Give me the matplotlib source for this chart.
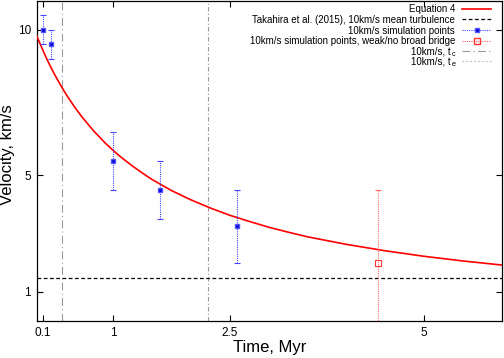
import matplotlib
matplotlib.use("Agg")
import matplotlib.pyplot as plt
from matplotlib.transforms import offset_copy

plt.rcParams['font.family'] = ['Liberation Sans', 'DejaVu Sans']

# Equation 4 curve
eq_t = [0.02, 0.05, 0.1, 0.15, 0.2, 0.25, 0.3, 0.35, 0.4, 0.5, 0.6, 0.75, 0.9, 1.0, 1.1, 1.25,
        1.4, 1.5, 1.75, 2.0, 2.25, 2.5, 2.75, 3.0, 3.25, 3.5, 4.0, 4.5, 5.0, 5.5, 6.0]
eq_v = [9.79, 9.60, 9.29, 8.99, 8.72, 8.46, 8.22, 7.99, 7.77, 7.37, 7.01, 6.53, 6.11, 5.86,
        5.63, 5.32, 5.04, 4.86, 4.48, 4.16, 3.88, 3.63, 3.42, 3.22, 3.05, 2.89, 2.63, 2.41,
        2.22, 2.06, 1.92]

# simulation points
sim_t = [0.1, 0.2, 1.0, 1.6, 2.6]
sim_v = [10.0, 9.5, 5.5, 4.5, 3.25]
sim_err = [0.5, 0.5, 1.0, 1.0, 1.25]

weak_t = [4.4]
weak_v = [2.0]
weak_err = [2.5]

takahira_v = 1.47
t_c = 0.34
t_e = 2.22

xticks = [0.1, 1, 2.5, 5]
xticklabels = ['0.1', '1', '2.5', '5']
yticks = [1, 5, 10]
yticklabels = ['1', '5', '10']

fig = plt.figure(figsize=(5.04, 3.58), dpi=100)
ax = fig.add_axes([36.7/504, 1 - 321/358, (502 - 36.7)/504, (321 - 0.5)/358])

ax.plot(eq_t, eq_v, color='#ff0000', lw=1.2, zorder=3)
ax.axhline(takahira_v, color='black', lw=0.9, ls=(0, (3, 2)), zorder=2)
ax.axvline(t_c, color='#999999', lw=0.8, ls=(0, (7, 3, 1, 3)), zorder=1)
ax.axvline(t_e, color='#999999', lw=0.8, ls=(0, (4, 2, 1, 2)), zorder=1)

eb = ax.errorbar(sim_t, sim_v, yerr=sim_err, fmt='s', color='#0000ff', ms=3.5,
                 mec='#5555ff', mfc='#0000cc', ecolor='#4444ff', elinewidth=0.8,
                 capsize=2, capthick=0.8, zorder=4)
for lc in eb[2]:
    lc.set_linestyle((0, (1, 1)))

eb2 = ax.errorbar(weak_t, weak_v, yerr=weak_err, fmt='s', color='#ff0000', ms=5,
                  mfc='none', mec='#ff3333', mew=0.8, ecolor='#ff6666', elinewidth=0.8,
                  capsize=2, capthick=0.8, zorder=4)
for lc in eb2[2]:
    lc.set_linestyle((0, (1, 1)))

ax.set_xlim(0.02, 6.0)
ax.set_ylim(0, 11)
ax.set_xticks(xticks)
ax.set_xticklabels(xticklabels)
ax.set_yticks(yticks)
ax.set_yticklabels(yticklabels)
ax.tick_params(direction='in', length=4, width=0.8, top=True, right=True,
               labelsize=8.5, pad=4)
for s in ax.spines.values():
    s.set_linewidth(0.9)

ax.set_xlabel('Time, Myr', fontsize=12, labelpad=1)
ax.set_ylabel('Velocity, km/s', fontsize=12)
ax.yaxis.set_label_coords(-0.047, 0.518)

# legend (manual, right-aligned text with sample on the right)
fx = lambda px: (px - 36.7) / (502 - 36.7)
fy = lambda py: 1 - (py - 0.5) / (321 - 0.5)
rows = [9, 19.3, 30.0, 40.5, 50.7, 60.5]
labels = ['Equation 4',
          'Takahira et al. (2015), 10km/s mean turbulence',
          '10km/s simulation points',
          '10km/s simulation points, weak/no broad bridge',
          '10km/s, t',
          '10km/s, t']
subs = [None, None, None, None, 'c', 'e']
styles = [dict(color='#ff0000', lw=1.2, ls='-'),
          dict(color='black', lw=0.9, ls=(0, (3, 2))),
          dict(color='#4444ff', lw=0.8, ls=(0, (1, 1)), marker='s', ms=3.5, mfc='#0000cc', mec='#5555ff'),
          dict(color='#ff6666', lw=0.8, ls=(0, (1, 1)), marker='s', ms=5, mfc='none', mec='#ff3333'),
          dict(color='#999999', lw=0.8, ls=(0, (7, 3, 1, 3))),
          dict(color='#bbbbbb', lw=0.8, ls=(0, (1.5, 2)))]
for y, lab, sub, st in zip(rows, labels, subs, styles):
    base = fy(y + 3.5)
    if sub is None:
        ax.text(fx(455), base, lab, transform=ax.transAxes, ha='right', va='baseline',
                fontsize=7.0)
    else:
        ax.text(fx(451), base, lab, transform=ax.transAxes, ha='right', va='baseline',
                fontsize=7.0)
        ax.text(fx(451.3), fy(y + 5.6), sub, transform=ax.transAxes, ha='left',
                va='baseline', fontsize=5.3)
    kw = dict(st)
    mk = kw.pop('marker', None)
    ms = kw.pop('ms', None)
    mfc = kw.pop('mfc', None)
    mec = kw.pop('mec', None)
    ax.plot([fx(462), fx(491)], [fy(y), fy(y)], transform=ax.transAxes, clip_on=False, **kw)
    if mk:
        ax.plot([fx(476.5)], [fy(y)], transform=ax.transAxes, marker=mk, ls='none',
                ms=ms, mfc=mfc, mec=mec, clip_on=False)

fig.savefig('out.png', dpi=100)
